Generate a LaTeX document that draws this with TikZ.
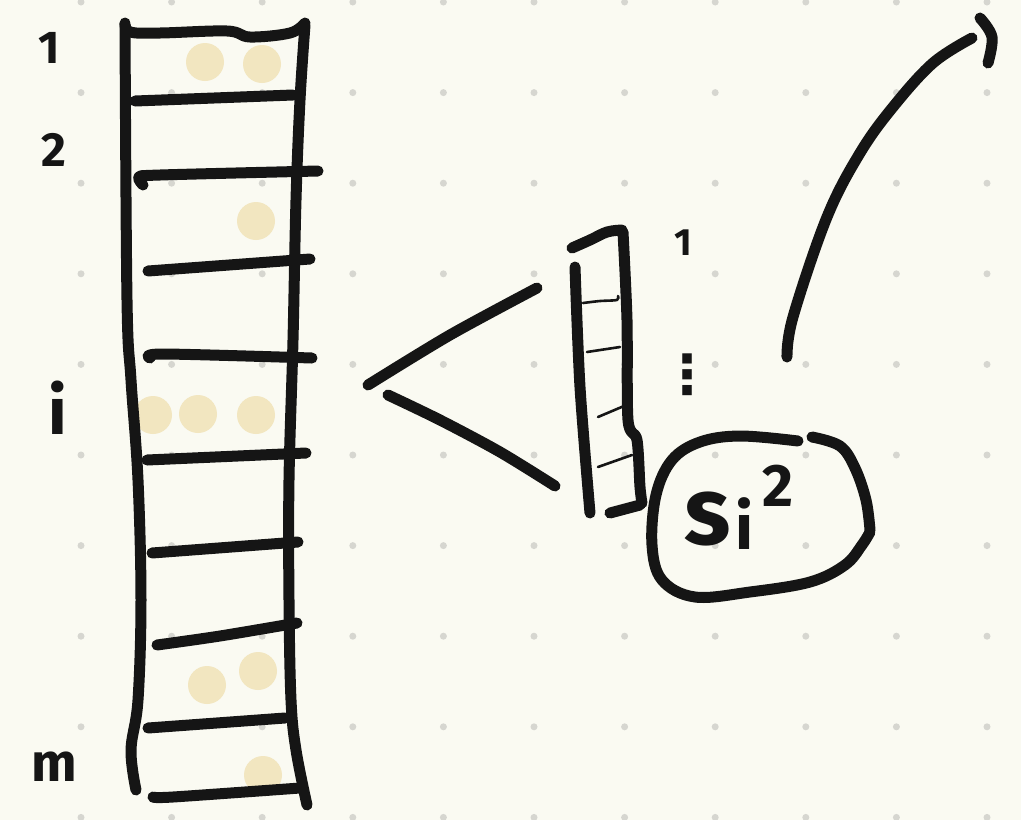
\documentclass[tikz,border=0pt]{standalone}
\usepackage{fontspec}
\setmainfont{Fira Sans}
\newfontfamily\symfont{DejaVu Sans}
\definecolor{paper}{HTML}{FAFAF2}
\definecolor{ink}{HTML}{151515}
\definecolor{grain}{HTML}{F2E6C0}
\definecolor{gridgray}{HTML}{D6D6D0}
\tikzset{
  pen/.style={draw=ink, line width=11pt, line cap=round, line join=round},
  finepen/.style={draw=ink, line width=2.6pt, line cap=round, line join=round},
  token/.style={fill=grain},
  hand/.style={text=ink, font=\bfseries\fontsize{#1}{#1}\selectfont, inner sep=0pt},
}

\begin{document}
\begin{tikzpicture}[x=1pt,y=-1pt]
\fill [paper] (0,0) rectangle (1021,820);
\useasboundingbox (0,0) rectangle (1021,820);
% dotted paper
\foreach \i in {0,...,10}
  \foreach \j in {0,...,9}
    \fill [gridgray] (81+90.6*\i,2+90.6*\j) circle (3.5);

% tokens in the buckets
\foreach \p in {(205,62),(262,64),(256,221),(153,415),(198,414),(256,415),(207,685),(258,671),(263,775)}
  \fill [token] \p circle (19);

% big column
\draw [pen] plot [smooth, tension=0.6] coordinates {(125,25) (127,300) (131,380) (138,480) (141,600) (138,700) (131,750) (136,790)};
\draw [pen] plot [smooth, tension=0.6] coordinates {(305,25) (300,100) (296,200) (293,340) (289,480) (289,600) (291,700) (296,750) (307,805)};
\draw [pen] plot [smooth, tension=0.6] coordinates {(125,23) (130,32) (160,33) (227,31) (250,37) (290,33) (305,23)};
% rungs
\draw [pen] (135,101) -- (293,95);
\draw [pen] plot [smooth, tension=0.5] coordinates {(143,185) (139,177) (160,175) (318,171)};
\draw [pen] (148,271) -- (310,259);
\draw [pen] plot [smooth, tension=0.5] coordinates {(150,358) (163,354) (312,358)};
\draw [pen] (147,460) -- (306,453);
\draw [pen] (152,553) -- (298,542);
\draw [pen] plot [smooth, tension=0.5] coordinates {(157,645) (220,636) (297,623)};
\draw [pen] (148,728) -- (285,718);
\draw [pen] plot [smooth, tension=0.5] coordinates {(153,797) (173,797) (300,788)};

% row labels
\node [hand=46] (rowone) at (49,48) {1};
\node [hand=48] (rowtwo) at (54,150) {2};
\node [hand=66] (rowi) at (58,408) {i};
\node [hand=54] (rowm) at (54,767) {m};

% zoom wedge
\draw [pen] plot [smooth, tension=0.5] coordinates {(537,288) (450,335) (368,385)};
\draw [pen] plot [smooth, tension=0.5] coordinates {(388,395) (440,420) (500,452) (555,486)};

% small column
\draw [pen] plot [smooth, tension=0.6] coordinates {(572,248) (590,240) (607,232) (622,230)};
\draw [pen] plot [smooth, tension=0.5] coordinates {(623,232) (627,320) (628,420) (637,440) (640,487) (642,503)};
\draw [pen] plot [smooth, tension=0.5] coordinates {(640,505) (625,509) (610,513)};
\draw [pen] plot [smooth, tension=0.5] coordinates {(575,267) (580,387) (590,513)};
\draw [finepen] plot [smooth, tension=0.5] coordinates {(583,303) (600,301) (617,300) (618,296)};
\draw [finepen] (587,352) -- (620,347);
\draw [finepen] (598,417) -- (624,406);
\draw [finepen] (598,467) -- (632,455);

% small column labels
\node [hand=38] (subone) at (683,243) {1};
\node [hand=54] (subdots) at (687,375) {\symfont\bfseries ⋮};

% squared score blob
\draw [pen] plot [smooth, tension=0.6] coordinates {(798,441) (740,436) (700,442) (672,460) (656,495) (652,545) (662,580) (695,597) (750,592) (810,582) (845,565) (862,545) (870,532)};
\draw [pen] plot [smooth, tension=0.6] coordinates {(812,437) (840,446) (855,468) (866,500) (870,530)};
\node [hand=96, anchor=base west] (score) at (684,544) {s\kern5pt\raisebox{-5pt}{\fontsize{64}{64}\selectfont i}\kern9pt\raisebox{38pt}{\fontsize{60}{60}\selectfont 2}};

% long stroke to the right
\draw [pen] plot [smooth, tension=0.6] coordinates {(787,357) (793,317) (827,217) (860,153) (893,107) (933,63) (972,38)};
\draw [pen] plot [smooth, tension=0.6] coordinates {(980,18) (992,37) (988,63)};
\end{tikzpicture}
\end{document}
